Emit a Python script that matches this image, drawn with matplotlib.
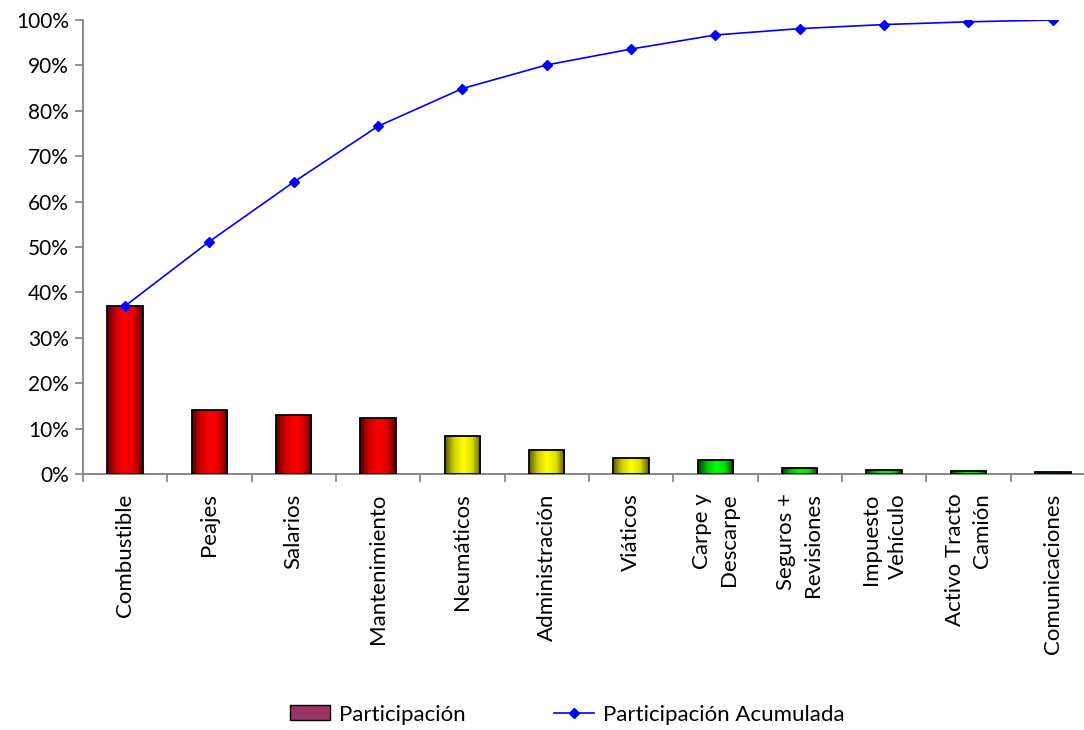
import numpy as np
import matplotlib
matplotlib.use("Agg")
import matplotlib.pyplot as plt
from matplotlib.colors import LinearSegmentedColormap
from matplotlib.patches import Patch
from matplotlib.lines import Line2D

plt.rcParams['font.family'] = ['Lato', 'DejaVu Sans']

categories = ["Combustible", "Peajes", "Salarios", "Mantenimiento", "Neumáticos",
              "Administración", "Viáticos", "Carpe y\nDescarpe", "Seguros +\nRevisiones",
              "Impuesto\nVehículo", "Activo Tracto\nCamión", "Comunicaciones"]
participacion = [37.0, 14.2, 13.1, 12.3, 8.3, 5.2, 3.5, 3.1, 1.4, 0.9, 0.6, 0.4]
grupo = ["rojo"] * 4 + ["amarillo"] * 3 + ["verde"] * 5
y_ticks = list(range(0, 101, 10))

acumulada = np.cumsum(participacion)

gradientes = {
    "rojo": LinearSegmentedColormap.from_list("rojo", ["#5a0000", "#d00000", "#ff0000", "#e00000", "#5a0000"]),
    "amarillo": LinearSegmentedColormap.from_list("amarillo", ["#5a5a00", "#d0d000", "#ffff00", "#e0e000", "#5a5a00"]),
    "verde": LinearSegmentedColormap.from_list("verde", ["#004000", "#00c000", "#00ff00", "#00e000", "#004000"]),
}

fig = plt.figure(figsize=(10.84, 7.30), dpi=100)
ax = fig.add_axes([82.8 / 1084, 1 - 474 / 730, (1095 - 82.8) / 1084, 454 / 730])

x = np.arange(len(categories))
bars = ax.bar(x, participacion, width=0.42, facecolor="none", edgecolor="black",
              linewidth=1.3, zorder=3)

grad = np.linspace(0, 1, 256).reshape(1, -1)
for rect, g in zip(bars, grupo):
    x0 = rect.get_x()
    w = rect.get_width()
    h = rect.get_height()
    im = ax.imshow(grad, extent=[x0, x0 + w, 0, h], aspect="auto",
                   cmap=gradientes[g], zorder=2, interpolation="bilinear")
    im.set_clip_path(rect)

ax.plot(x, acumulada, color="#0000ff", linewidth=1.2, marker="D", markersize=5.5,
        zorder=4)

ax.set_xlim(-0.5, len(categories) - 0.5)
ax.set_ylim(0, 100)
ax.set_yticks(y_ticks)
ax.set_yticklabels([f"{v}%" for v in y_ticks], fontsize=15)

ax.set_xticks(np.arange(len(categories) + 1) - 0.5)
ax.set_xticklabels([])
ax.set_xticks(x, minor=True)
ax.set_xticklabels(categories, minor=True, rotation=90, fontsize=16,
                   va="top", ha="center", multialignment="right", linespacing=1.45)
ax.tick_params(axis="x", which="minor", length=0, pad=14)
ax.tick_params(axis="x", which="major", length=6, direction="out", color="#808080", width=1.2)
ax.tick_params(axis="y", length=6, direction="out", color="#808080", width=1.2, pad=4)

for side in ["top", "right"]:
    ax.spines[side].set_visible(False)
for side in ["left", "bottom"]:
    ax.spines[side].set_color("#808080")
    ax.spines[side].set_linewidth(1.3)

handles = [Patch(facecolor="#993366", edgecolor="black", linewidth=1.0),
           Line2D([0], [0], color="#0000ff", linewidth=1.2, marker="D", markersize=5.5)]
fig.legend(handles, ["Participación", "Participación Acumulada"], loc="center",
           bbox_to_anchor=(0.5235, 0.021), ncol=2, frameon=False, fontsize=16,
           columnspacing=4.0, handlelength=1.8, handleheight=0.65, handletextpad=0.4,
           borderpad=0.0)

fig.savefig("out.png", dpi=100)
